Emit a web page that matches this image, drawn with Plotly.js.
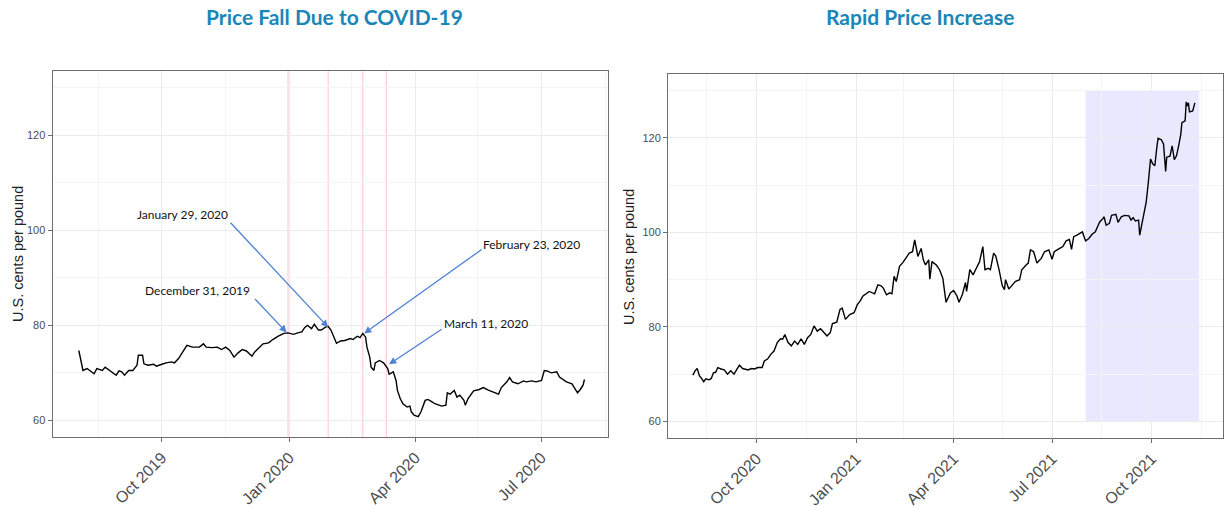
<!DOCTYPE html>
<html>
<head>
<meta charset="utf-8">
<script src="https://cdn.plot.ly/plotly-3.0.1.min.js"></script>
<style>html,body{margin:0;padding:0;background:#fff}#chart{width:1225px;height:510px}</style>
</head>
<body>
<div id="chart"></div>
<script>
// ---------- DATA ----------
const leftTitle = 'Price Fall Due to COVID-19';
const rightTitle = 'Rapid Price Increase';
const yTitle = 'U.S. cents per pound';

const leftDates = [
 '2019-08-02','2019-08-05','2019-08-08','2019-08-10','2019-08-13','2019-08-15','2019-08-19','2019-08-21','2019-08-24','2019-08-26','2019-08-29','2019-08-31',
 '2019-09-02','2019-09-04','2019-09-07','2019-09-10','2019-09-13','2019-09-14','2019-09-17','2019-09-18','2019-09-21','2019-09-25','2019-09-27',
 '2019-10-01','2019-10-04','2019-10-08','2019-10-10','2019-10-13','2019-10-15','2019-10-17','2019-10-19','2019-10-23','2019-10-28','2019-10-31',
 '2019-11-02','2019-11-06','2019-11-10','2019-11-13','2019-11-16','2019-11-19','2019-11-22','2019-11-25','2019-11-28',
 '2019-12-01','2019-12-05','2019-12-07','2019-12-11','2019-12-13','2019-12-17','2019-12-20','2019-12-24','2019-12-28','2019-12-31',
 '2020-01-04','2020-01-07','2020-01-10','2020-01-12','2020-01-14','2020-01-17','2020-01-19','2020-01-22','2020-01-24','2020-01-27','2020-01-29','2020-01-31',
 '2020-02-02','2020-02-04','2020-02-07','2020-02-10','2020-02-14','2020-02-16','2020-02-19','2020-02-21','2020-02-23','2020-02-25','2020-02-26','2020-02-28','2020-02-29',
 '2020-03-02','2020-03-03','2020-03-06','2020-03-09','2020-03-12','2020-03-13','2020-03-16','2020-03-18','2020-03-19','2020-03-21','2020-03-23','2020-03-26','2020-03-28','2020-03-29','2020-03-31',
 '2020-04-03','2020-04-05','2020-04-08','2020-04-10','2020-04-13','2020-04-15','2020-04-18','2020-04-20','2020-04-23','2020-04-24','2020-04-26','2020-04-29',
 '2020-05-01','2020-05-03','2020-05-06','2020-05-07','2020-05-09','2020-05-13','2020-05-17','2020-05-20','2020-05-24','2020-05-27','2020-05-31',
 '2020-06-02','2020-06-06','2020-06-08','2020-06-10','2020-06-14','2020-06-18','2020-06-20','2020-06-24','2020-06-27',
 '2020-07-01','2020-07-03','2020-07-05','2020-07-08','2020-07-12','2020-07-14','2020-07-17','2020-07-19','2020-07-23','2020-07-25','2020-07-27','2020-07-29','2020-07-31',
 '2020-08-01'
];
const leftPrices = [
 74.7,70.5,70.9,70.4,69.8,70.9,70.5,71.2,70.5,70.0,69.5,70.4,
 70.2,69.5,70.5,70.5,71.6,73.7,73.7,71.9,71.6,71.8,71.4,
 71.8,72.1,72.3,72.1,73.0,74.0,74.9,75.8,75.4,75.4,76.1,
 75.4,75.3,75.4,74.9,75.4,74.7,73.3,74.2,74.9,
 74.6,73.5,74.4,75.4,76.1,76.3,77.0,77.7,78.3,78.4,
 78.1,78.4,78.6,79.5,80.0,79.3,80.2,79.0,79.0,79.6,79.8,79.0,
 77.5,76.2,76.7,76.8,77.2,77.0,77.7,77.4,78.3,77.5,75.4,73.3,71.2,
 70.5,72.1,72.6,72.1,70.9,69.7,70.2,68.4,66.3,64.6,63.5,62.8,63.0,61.8,61.1,
 60.8,61.8,64.2,64.4,63.9,63.5,63.2,63.0,63.2,65.8,65.5,66.3,
 64.9,65.3,64.2,63.2,64.6,66.2,66.5,66.9,66.3,66.0,65.5,
 66.9,68.1,69.0,68.1,67.7,68.3,68.1,68.3,68.1,
 68.4,70.5,70.4,70.0,70.2,69.1,68.4,68.1,67.7,66.7,65.8,66.5,67.4,
 68.6
];

const rightDates = [
 '2020-08-03','2020-08-05','2020-08-07','2020-08-09','2020-08-11','2020-08-13','2020-08-15','2020-08-18','2020-08-20','2020-08-22','2020-08-24','2020-08-26','2020-08-29',
 '2020-09-01','2020-09-04','2020-09-07','2020-09-10','2020-09-12','2020-09-15','2020-09-18','2020-09-23','2020-09-26','2020-09-29',
 '2020-10-02','2020-10-06','2020-10-08','2020-10-11','2020-10-14','2020-10-17','2020-10-20','2020-10-23','2020-10-25','2020-10-27','2020-10-30',
 '2020-11-02','2020-11-05','2020-11-08','2020-11-11','2020-11-14','2020-11-17','2020-11-20','2020-11-23','2020-11-26','2020-11-29',
 '2020-12-02','2020-12-05','2020-12-08','2020-12-10','2020-12-14','2020-12-17','2020-12-19','2020-12-22','2020-12-26','2020-12-30',
 '2021-01-02','2021-01-05','2021-01-07','2021-01-13','2021-01-18','2021-01-21','2021-01-24','2021-01-26','2021-01-29',
 '2021-02-01','2021-02-03','2021-02-05','2021-02-07','2021-02-10','2021-02-13','2021-02-16','2021-02-19','2021-02-22','2021-02-24','2021-02-27',
 '2021-03-02','2021-03-04','2021-03-06','2021-03-09','2021-03-10','2021-03-12','2021-03-16','2021-03-19','2021-03-22','2021-03-25','2021-03-29',
 '2021-04-01','2021-04-04','2021-04-06','2021-04-09','2021-04-12','2021-04-13','2021-04-16','2021-04-19','2021-04-22','2021-04-25','2021-04-28','2021-04-30',
 '2021-05-03','2021-05-05','2021-05-08','2021-05-10','2021-05-13','2021-05-16','2021-05-18','2021-05-19','2021-05-22','2021-05-25','2021-05-28',
 '2021-06-01','2021-06-03','2021-06-07','2021-06-09','2021-06-11','2021-06-14','2021-06-17','2021-06-21','2021-06-24','2021-06-28',
 '2021-07-01','2021-07-03','2021-07-08','2021-07-11','2021-07-14','2021-07-17','2021-07-19','2021-07-21','2021-07-24','2021-07-29',
 '2021-08-01','2021-08-04','2021-08-07','2021-08-10','2021-08-12','2021-08-14','2021-08-17','2021-08-18','2021-08-20','2021-08-23','2021-08-25','2021-08-29','2021-08-31',
 '2021-09-03','2021-09-06','2021-09-10','2021-09-12','2021-09-14','2021-09-16','2021-09-19','2021-09-20','2021-09-22','2021-09-24','2021-09-26','2021-09-28','2021-09-30',
 '2021-10-02','2021-10-04','2021-10-06','2021-10-07','2021-10-10','2021-10-12','2021-10-14','2021-10-15','2021-10-18','2021-10-20','2021-10-22','2021-10-24','2021-10-26','2021-10-28','2021-10-29',
 '2021-11-01','2021-11-02','2021-11-03','2021-11-04','2021-11-05','2021-11-08','2021-11-10'
];
const rightPrices = [
 69.8,70.7,71.2,69.7,69.1,68.4,69.0,68.8,69.1,70.3,70.4,71.4,71.1,
 70.9,70.0,70.7,70.0,70.7,71.9,71.2,70.9,71.2,71.1,
 71.4,71.4,72.8,73.2,74.2,74.9,76.7,77.5,77.4,78.4,76.7,
 76.0,77.0,76.3,77.5,76.3,77.7,78.4,80.2,79.1,79.6,
 78.8,78.1,78.8,80.7,81.0,83.7,84.0,81.6,82.6,83.0,
 84.7,85.6,86.5,87.5,87.0,88.9,88.7,88.2,86.8,
 87.2,87.0,90.7,89.6,92.8,93.6,94.5,95.6,95.9,98.4,94.9,
 96.6,94.2,93.1,94.2,90.1,93.8,93.1,92.1,90.3,85.2,87.2,
 87.7,86.6,85.2,86.8,89.4,87.5,92.1,91.0,92.4,93.8,97.0,92.1,
 92.4,92.1,95.6,95.0,92.1,88.7,87.9,90.0,88.0,88.9,89.6,
 90.0,92.1,93.1,93.5,96.3,95.9,93.5,94.5,95.9,96.3,
 94.3,95.9,96.6,97.0,98.2,98.5,96.4,99.1,99.4,100.1,
 98.2,98.7,99.6,100.1,101.2,102.2,102.9,103.3,101.5,101.9,103.6,103.8,102.1,
 103.3,103.6,103.5,102.6,103.1,102.4,102.6,99.4,101.5,103.6,106.4,110.6,115.5,
 114.5,114.1,118.3,119.9,119.6,118.7,112.9,115.9,116.1,118.3,115.4,116.2,118.3,120.8,123.2,
 123.6,127.6,126.7,127.4,125.5,125.7,127.4
];

// events (left panel)
const eventDates  = ['2019-12-31','2020-01-29','2020-02-23','2020-03-11'];
const eventLabels = ['December 31, 2019','January 29, 2020','February 23, 2020','March 11, 2020'];
const arrowHeadX  = ['2019-12-30','2020-01-29','2020-02-24','2020-03-13'];
const arrowHeadY  = [78.5, 79.6, 78.3, 71.8];
const labelX      = ['2019-10-27','2019-10-16','2020-06-24','2020-05-22'];
const labelY      = [87.4, 103.4, 97.1, 80.4];

// highlighted period (right panel)
const highlightX = ['2021-08-01','2021-11-14'];
const highlightY = [60, 130];

// axes
const leftTickVals  = ['2019-10-01','2020-01-01','2020-04-01','2020-07-01'];
const leftTickText  = ['Oct 2019','Jan 2020','Apr 2020','Jul 2020'];
const leftMinorVals = ['2019-08-16','2019-11-16','2020-02-15','2020-05-16','2020-08-16'];
const rightTickVals = ['2020-10-01','2021-01-01','2021-04-01','2021-07-01','2021-10-01'];
const rightTickText = ['Oct 2020','Jan 2021','Apr 2021','Jul 2021','Oct 2021'];
const rightMinorVals= ['2020-08-16','2020-11-16','2021-02-14','2021-05-16','2021-08-16','2021-11-16'];
const yTickVals  = [60, 80, 100, 120];
const yMinorVals = [70, 90, 110, 130];

// ---------- LAYOUT ----------
const W = 1225, H = 510;
const px = v => v / W, py = v => 1 - v / H;

const FONT = 'Liberation Sans, Arial, Helvetica, sans-serif';
const LABFONT = 'Lato, Carlito, Calibri, sans-serif';
const titleColor = '#1a86b8';
const arrowColor = '#4f82d4';
const frameColor = '#6e6e6e';

function xAxis(domain, range, tv, tt, mv, anchor) {
  return {
    type: 'date', domain, range, anchor,
    tickmode: 'array', tickvals: tv, ticktext: tt, tickangle: -45,
    tickfont: {family: FONT, size: 16, color: '#4d4d4d'},
    ticks: 'outside', ticklen: 4, tickcolor: frameColor, tickwidth: 1,
    showgrid: true, gridcolor: '#ebebeb', gridwidth: 1,
    minor: {tickmode: 'array', tickvals: mv, showgrid: true, gridcolor: '#f4f4f4', gridwidth: 1, ticks: ''},
    showline: true, mirror: true, linecolor: frameColor, linewidth: 1,
    zeroline: false, fixedrange: true
  };
}
function yAxis(domain, anchor) {
  return {
    domain, anchor, range: [56.5, 133.5],
    tickmode: 'array', tickvals: yTickVals,
    tickfont: {family: FONT, size: 11, color: '#4d4d4d'},
    ticks: 'outside', ticklen: 4, tickcolor: frameColor, tickwidth: 1,
    showgrid: true, gridcolor: '#ebebeb', gridwidth: 1,
    minor: {tickmode: 'array', tickvals: yMinorVals, showgrid: true, gridcolor: '#f4f4f4', gridwidth: 1, ticks: ''},
    showline: true, mirror: true, linecolor: frameColor, linewidth: 1,
    zeroline: false, fixedrange: true
  };
}

const traces = [
  {x: leftDates, y: leftPrices, xaxis: 'x', yaxis: 'y', type: 'scatter', mode: 'lines',
   line: {color: '#000', width: 1.4}, hoverinfo: 'x+y', showlegend: false},
  {x: rightDates, y: rightPrices, xaxis: 'x2', yaxis: 'y2', type: 'scatter', mode: 'lines',
   line: {color: '#000', width: 1.4}, hoverinfo: 'x+y', showlegend: false}
];

const shapes = eventDates.map(d => ({
  type: 'line', xref: 'x', yref: 'paper', x0: d, x1: d, y0: py(437), y1: py(71),
  line: {color: 'rgba(255,120,140,0.45)', width: 1}, layer: 'below'
}));
shapes.push({
  type: 'rect', xref: 'x2', yref: 'y2', x0: highlightX[0], x1: highlightX[1],
  y0: highlightY[0], y1: highlightY[1], fillcolor: 'rgba(0,0,255,0.09)',
  line: {width: 0}, layer: 'below'
});

const arrowOffsets = [[-33, -35], [-99, -106], [119, -85], [54, -36]];
const annotations = [
  {text: '<b>' + leftTitle + '</b>', xref: 'paper', yref: 'paper', x: px(334), y: py(17),
   showarrow: false, xanchor: 'center', yanchor: 'middle',
   font: {family: LABFONT, size: 21, color: titleColor}},
  {text: '<b>' + rightTitle + '</b>', xref: 'paper', yref: 'paper', x: px(920), y: py(17),
   showarrow: false, xanchor: 'center', yanchor: 'middle',
   font: {family: LABFONT, size: 21, color: titleColor}},
  {text: yTitle, xref: 'paper', yref: 'paper', x: px(18), y: py(254), textangle: -90,
   showarrow: false, xanchor: 'center', yanchor: 'middle',
   font: {family: FONT, size: 14.5, color: '#222'}},
  {text: yTitle, xref: 'paper', yref: 'paper', x: px(629), y: py(257), textangle: -90,
   showarrow: false, xanchor: 'center', yanchor: 'middle',
   font: {family: FONT, size: 14.5, color: '#222'}}
];
eventLabels.forEach((lab, i) => {
  annotations.push({
    text: '', xref: 'x', yref: 'y', x: arrowHeadX[i], y: arrowHeadY[i],
    showarrow: true, ax: arrowOffsets[i][0], ay: arrowOffsets[i][1],
    arrowhead: 2, arrowsize: 1.1, arrowwidth: 1.3, arrowcolor: arrowColor, standoff: 0
  });
  annotations.push({
    text: lab, xref: 'x', yref: 'y', x: labelX[i], y: labelY[i], showarrow: false,
    xanchor: 'center', yanchor: 'middle',
    font: {family: LABFONT, size: 12, color: '#111'}
  });
});

const layout = {
  width: W, height: H,
  margin: {l: 0, r: 0, t: 0, b: 0},
  paper_bgcolor: '#fff', plot_bgcolor: '#fff',
  showlegend: false,
  xaxis:  xAxis([px(52.5), px(608)], ['2019-07-14', '2020-08-18'], leftTickVals, leftTickText, leftMinorVals, 'y'),
  yaxis:  yAxis([py(437), py(71)], 'x'),
  xaxis2: xAxis([px(668), px(1223)], ['2020-07-11', '2021-12-06'], rightTickVals, rightTickText, rightMinorVals, 'y2'),
  yaxis2: yAxis([py(438), py(74)], 'x2'),
  shapes, annotations
};

Plotly.newPlot('chart', traces, layout, {displayModeBar: false, staticPlot: true});
</script>
</body>
</html>
